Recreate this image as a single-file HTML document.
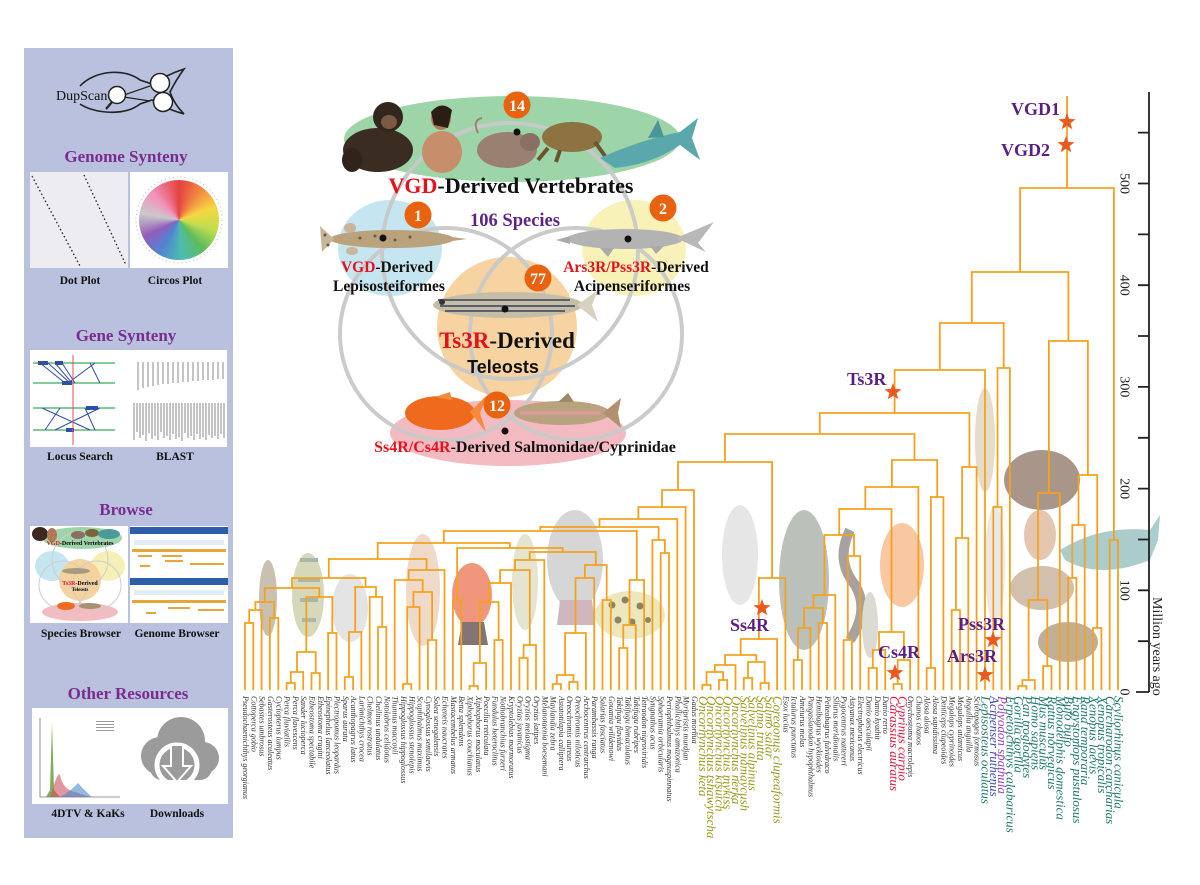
<!DOCTYPE html>
<html><head><meta charset="utf-8">
<style>
html,body{margin:0;padding:0;background:#fff;}
#wrap{position:relative;width:1200px;height:885px;overflow:hidden;background:#fff;}
svg{position:absolute;left:0;top:0;}
.circos{position:absolute;left:139px;top:180px;width:80px;height:80px;border-radius:50%;
background:conic-gradient(#e02020 0deg,#f07020 35deg,#f4d020 70deg,#b8d830 105deg,#40b040 140deg,#30b0a0 175deg,#3070c8 210deg,#8040b0 245deg,#c0c0c0 280deg,#f080b0 315deg,#e02020 360deg);opacity:.85}
</style></head><body><div id="wrap">
<svg width="1200" height="885" viewBox="0 0 1200 885" font-family="'Liberation Serif', serif">
<defs>
<path id="st" d="M0,-9 L2.17,-2.99 L8.56,-2.78 L3.52,1.14 L5.29,7.28 L0,3.7 L-5.29,7.28 L-3.52,1.14 L-8.56,-2.78 L-2.17,-2.99Z" fill="#ea5a1c"/>
</defs>

<!-- LEFT PANEL -->
<rect x="24" y="48" width="209" height="790" fill="#b9c1de"/>
<!-- logo -->
<path d="M80,86 C95,70 125,68 140,80 L152,84 C165,76 175,72 184,69 C176,80 172,88 170,92 C172,98 176,106 184,114 C174,111 165,108 152,100 L140,104 C125,116 95,114 80,104" fill="none" stroke="#222" stroke-width="1.6"/>
<path d="M124,95 L150,86 M124,97 L150,101" stroke="#222" stroke-width="1.2"/>
<circle cx="160" cy="83" r="9.5" fill="#fff" stroke="#222" stroke-width="1.5"/>
<circle cx="163" cy="102" r="9.5" fill="#fff" stroke="#222" stroke-width="1.5"/>
<circle cx="117" cy="95" r="8.5" fill="#fff" stroke="#222" stroke-width="1.5"/>
<path d="M112,102 L106,109" stroke="#222" stroke-width="2.2"/>
<text x="56" y="100" font-size="14" fill="#111">DupScan</text>

<text x="126" y="162" font-size="17" font-weight="bold" fill="#7a2c8e" text-anchor="middle">Genome Synteny</text>
<rect x="30" y="172" width="98" height="96" fill="#ececf1"/>
<path d="M32,176 L80,266 M84,175 L126,265" stroke="#222" stroke-width="1.3" stroke-dasharray="1.5 2.5"/>
<rect x="130" y="172" width="98" height="96" fill="#fff"/>
<circle cx="179" cy="220" r="43" fill="none" stroke="#bbb" stroke-width="1" stroke-dasharray="1 3"/>
<text x="80" y="284" font-size="11.5" font-weight="bold" fill="#111" text-anchor="middle">Dot Plot</text>
<text x="175" y="284" font-size="11.5" font-weight="bold" fill="#111" text-anchor="middle">Circos Plot</text>

<text x="126" y="341" font-size="17" font-weight="bold" fill="#7a2c8e" text-anchor="middle">Gene Synteny</text>
<rect x="30" y="350" width="197" height="97" fill="#fff"/>
<g stroke="#3cab5a" stroke-width="1.2"><path d="M33,363H115M33,383H115M33,408H115M33,430H115"/></g>
<g stroke="#2f4fa8" stroke-width="1"><path d="M40,363L65,383M48,363L70,383M55,363L72,383M62,363L75,383M90,363L100,383M95,363L68,383M42,408L90,430M60,408L45,430M85,408L95,430M100,408L55,430"/></g>
<g fill="#2f4fa8"><rect x="38" y="361" width="10" height="4"/><rect x="55" y="361" width="8" height="4"/><rect x="62" y="381" width="10" height="4"/><rect x="86" y="406" width="12" height="4"/><rect x="66" y="428" width="8" height="4"/></g>
<path d="M73,355V445" stroke="#e05050" stroke-width="1"/>
<g stroke="#888" stroke-width="1"><path d="M138,362V390M143,362V388M148,362V387M153,362V386M158,362V385M163,362V384M168,362V384M173,362V383M178,362V383M183,362V382M188,362V382M193,362V381M198,362V381M203,362V380M208,362V380M213,362V380M218,362V379M223,362V379"/>
<path d="M134,403V440M137,403V432M140,403V438M143,403V435M146,403V441M149,403V433M152,403V439M155,403V436M158,403V440M161,403V432M164,403V438M167,403V436M170,403V440M173,403V434M176,403V439M179,403V437M182,403V441M185,403V433M188,403V438M191,403V436M194,403V440M197,403V434M200,403V439M203,403V437M206,403V440M209,403V435M212,403V438M215,403V436M218,403V439M221,403V434M224,403V438"/></g>
<text x="80" y="460" font-size="11.5" font-weight="bold" fill="#111" text-anchor="middle">Locus Search</text>
<text x="175" y="460" font-size="11.5" font-weight="bold" fill="#111" text-anchor="middle">BLAST</text>

<text x="126" y="515" font-size="17" font-weight="bold" fill="#7a2c8e" text-anchor="middle">Browse</text>
<rect x="30" y="526" width="98" height="97" fill="#fff"/>
<ellipse cx="82" cy="538" rx="40" ry="11" fill="#9dd4a8"/>
<ellipse cx="52" cy="566" rx="17" ry="15" fill="#c5e6f0"/>
<ellipse cx="108" cy="566" rx="17" ry="15" fill="#f7f0b6"/>
<circle cx="80" cy="580" r="21" fill="#f5d39f"/>
<ellipse cx="80" cy="612" rx="38" ry="9" fill="#f2bcc3"/>
<g fill="none" stroke="#ccc" stroke-width="1"><circle cx="80" cy="560" r="28"/><circle cx="63" cy="585" r="24"/><circle cx="97" cy="585" r="24"/></g>
<ellipse cx="40" cy="534" rx="8" ry="7" fill="#3a2a20"/><ellipse cx="52" cy="535" rx="5" ry="7" fill="#b07a58"/><ellipse cx="78" cy="535" rx="7" ry="4" fill="#8a7060"/><ellipse cx="92" cy="533" rx="7" ry="4" fill="#7a6438"/><ellipse cx="109" cy="534" rx="11" ry="5" fill="#4a9a9a"/>
<ellipse cx="76" cy="571" rx="14" ry="3" fill="#a89a80"/><ellipse cx="66" cy="606" rx="9" ry="4" fill="#f06a20"/><ellipse cx="90" cy="606" rx="11" ry="3" fill="#a89070"/>
<text x="80" y="545" font-size="6" font-weight="bold" text-anchor="middle"><tspan fill="#e3121b">VGD</tspan>-Derived Vertebrates</text>
<text x="80" y="585" font-size="6" font-weight="bold" text-anchor="middle"><tspan fill="#e3121b">Ts3R</tspan>-Derived</text>
<text x="80" y="591" font-size="5" font-weight="bold" text-anchor="middle">Teleosts</text>
<rect x="130" y="526" width="98" height="97" fill="#fff"/>
<rect x="130" y="527" width="98" height="7" fill="#2d5fa8"/>
<rect x="130" y="578" width="98" height="7" fill="#2d5fa8"/>
<rect x="134" y="540" width="90" height="5" fill="#e4ecf6"/><rect x="134" y="590" width="90" height="5" fill="#e4ecf6"/>
<g fill="#e8a63a"><rect x="132" y="549" width="94" height="3"/><rect x="138" y="555" width="14" height="2"/><rect x="162" y="555" width="20" height="2"/><rect x="165" y="560" width="18" height="2"/><rect x="140" y="565" width="10" height="2"/><rect x="190" y="563" width="34" height="2"/><rect x="132" y="600" width="94" height="3"/><rect x="168" y="607" width="22" height="2"/><rect x="198" y="609" width="26" height="2"/><rect x="146" y="612" width="10" height="2"/></g>
<text x="81" y="637" font-size="11.5" font-weight="bold" fill="#111" text-anchor="middle">Species Browser</text>
<text x="177" y="637" font-size="11.5" font-weight="bold" fill="#111" text-anchor="middle">Genome Browser</text>

<text x="128" y="699" font-size="17" font-weight="bold" fill="#7a2c8e" text-anchor="middle">Other Resources</text>
<rect x="32" y="708" width="196" height="96" fill="#fff"/>
<path d="M40,718V797H120" stroke="#777" stroke-width="0.8" fill="none"/>
<path d="M46,797 L50,790 L52,722 L54,790 L60,797Z" fill="#6aa040" opacity=".85"/>
<path d="M50,797 Q58,770 60,775 Q63,790 75,792 L90,797Z" fill="#d05060" opacity=".6"/>
<path d="M60,797 Q72,790 78,783 Q84,790 92,797Z" fill="#4a8ac8" opacity=".6"/>
<g fill="#999"><rect x="96" y="721" width="18" height="1"/><rect x="96" y="724" width="18" height="1"/><rect x="96" y="727" width="18" height="1"/><rect x="96" y="730" width="18" height="1"/></g>
<g fill="#9b9b9b"><circle cx="160" cy="756" r="19"/><circle cx="181" cy="741" r="24"/><circle cx="203" cy="758" r="16"/><rect x="150" y="752" width="62" height="28" rx="12"/></g>
<circle cx="177" cy="765" r="20" fill="none" stroke="#fff" stroke-width="5"/>
<path d="M171,745H183V766H191L177,782L163,766H171Z" fill="#9b9b9b" stroke="#fff" stroke-width="2"/>
<text x="88" y="817" font-size="11.5" font-weight="bold" fill="#111" text-anchor="middle">4DTV &amp; KaKs</text>
<text x="177" y="817" font-size="11.5" font-weight="bold" fill="#111" text-anchor="middle">Downloads</text>

<!-- VENN -->
<ellipse cx="512" cy="139" rx="168" ry="43" fill="#9dd4a8"/>
<ellipse cx="390" cy="248" rx="52" ry="48" fill="#c5e6f0"/>
<ellipse cx="634" cy="248" rx="52" ry="48" fill="#f8f1b8"/>
<circle cx="507" cy="327" r="70" fill="#f6d3a1"/>
<ellipse cx="508" cy="433" rx="118" ry="33" fill="#f3bac1"/>
<g fill="none" stroke="#c9c9c9" stroke-width="4" opacity=".95">
<circle cx="510" cy="251" r="128"/><circle cx="446" cy="334" r="106"/><circle cx="576" cy="334" r="106"/></g>

<!-- animals -->
<g>
<ellipse cx="378" cy="150" rx="35" ry="22" fill="#3b2c22"/>
<circle cx="388" cy="117" r="15" fill="#33261d"/>
<ellipse cx="389" cy="122" rx="8" ry="7" fill="#7a5a45"/>
<ellipse cx="352" cy="160" rx="10" ry="12" fill="#2f231b"/>
<ellipse cx="442" cy="152" rx="20" ry="21" fill="#c78e6c"/>
<ellipse cx="441" cy="118" rx="10" ry="12" fill="#b07a58"/>
<path d="M431,112 Q441,100 452,110 L448,128 L434,125Z" fill="#2a1d16"/>
<path d="M478,133 Q472,120 482,118" stroke="#a08070" stroke-width="2" fill="none"/>
<ellipse cx="507" cy="150" rx="30" ry="18" fill="#9a8070"/>
<ellipse cx="530" cy="142" rx="10" ry="9" fill="#8a7064"/>
<ellipse cx="572" cy="137" rx="30" ry="15" fill="#8d7242"/>
<path d="M548,148 L538,160 M595,142 L605,156 M560,150 L556,162" stroke="#6a5530" stroke-width="4"/>
<path d="M600,158 Q640,140 680,132 L698,118 L692,138 L700,160 L680,145 Q650,165 615,168 Z" fill="#5aa8ab"/>
<path d="M648,138 L658,120 L664,137Z" fill="#4c9598"/>
</g>
<g>
<ellipse cx="392" cy="239" rx="62" ry="9" fill="#b9a27c"/>
<path d="M334,239 L320,226 L322,252Z" fill="#c8b59a"/>
<path d="M445,236 L467,239 L445,242Z" fill="#b9a27c"/>
<ellipse cx="350" cy="228" rx="6" ry="5" fill="#c8b59a"/>
<ellipse cx="352" cy="251" rx="6" ry="4" fill="#c8b59a"/>
<g fill="#6a5a40"><circle cx="360" cy="238" r="1.5"/><circle cx="375" cy="236" r="1.5"/><circle cx="395" cy="240" r="1.5"/><circle cx="410" cy="237" r="1.5"/><circle cx="325" cy="235" r="1.5"/><circle cx="328" cy="245" r="1.5"/></g>
<ellipse cx="625" cy="239" rx="58" ry="10" fill="#b3b3b3"/>
<path d="M676,238 L714,222 L698,243 L706,252Z" fill="#b8b8b8"/>
<path d="M570,236 L556,240 L570,244Z" fill="#aaa"/>
<path d="M600,248 L608,257 L614,248Z M650,246 L656,254 L664,246Z" fill="#aaa"/>
<ellipse cx="508" cy="305" rx="75" ry="13" fill="#c6bda6"/>
<path d="M438,300H570M440,306H575M445,311H565" stroke="#5a6070" stroke-width="2"/>
<path d="M577,305 L598,290 L592,305 L598,322Z" fill="#d8d0c0"/>
<circle cx="442" cy="302" r="3" fill="#333"/>
<ellipse cx="440" cy="413" rx="35" ry="17" fill="#f06a1e"/>
<path d="M470,412 L487,395 L480,413 L486,432Z" fill="#f58a3a"/>
<path d="M435,397 L450,392 L452,400Z" fill="#f58a3a"/>
<ellipse cx="562" cy="413" rx="48" ry="12" fill="#b9a27f"/>
<path d="M520,413H600" stroke="#e09aa0" stroke-width="3"/>
<path d="M603,413 L621,398 L618,413 L621,428Z" fill="#b09070"/>
<path d="M558,402 L568,393 L574,402Z" fill="#a08868"/>
</g>
<g fill="#111"><circle cx="517" cy="132" r="3.5"/><circle cx="383" cy="238" r="3.5"/><circle cx="628" cy="239" r="3.5"/><circle cx="505" cy="309" r="3.5"/><circle cx="505" cy="431" r="3.5"/></g>

<text x="511" y="193" font-size="22" font-weight="bold" fill="#111" text-anchor="middle"><tspan fill="#e3121b">VGD</tspan>-Derived Vertebrates</text>
<text x="515" y="226" font-size="18.5" font-weight="bold" fill="#5e2486" text-anchor="middle">106 Species</text>
<text x="387" y="272" font-size="15.5" font-weight="bold" fill="#111" text-anchor="middle"><tspan fill="#e3121b">VGD</tspan>-Derived</text>
<text x="389" y="291" font-size="15.5" font-weight="bold" fill="#111" text-anchor="middle">Lepisosteiformes</text>
<text x="636" y="272" font-size="15.5" font-weight="bold" fill="#111" text-anchor="middle"><tspan fill="#e3121b">Ars3R/Pss3R</tspan>-Derived</text>
<text x="632" y="291" font-size="15.5" font-weight="bold" fill="#111" text-anchor="middle">Acipenseriformes</text>
<text x="507" y="348" font-size="23" font-weight="bold" fill="#111" text-anchor="middle"><tspan fill="#e3121b">Ts3R</tspan>-Derived</text>
<text x="503" y="373" font-size="18" font-weight="bold" fill="#111" text-anchor="middle" font-family="'Liberation Sans', sans-serif">Teleosts</text>
<text x="525" y="452" font-size="16" font-weight="bold" fill="#111" text-anchor="middle"><tspan fill="#e3121b">Ss4R/Cs4R</tspan>-Derived Salmonidae/Cyprinidae</text>

<g font-weight="bold" fill="#fff" text-anchor="middle" font-size="16">
<circle cx="517" cy="105" r="13.5" fill="#e8620f"/><text x="517" y="111">14</text>
<circle cx="418" cy="215" r="13.5" fill="#e8620f"/><text x="418" y="221">1</text>
<circle cx="663" cy="208" r="13.5" fill="#e8620f"/><text x="663" y="214">2</text>
<circle cx="538" cy="278" r="13.5" fill="#e8620f"/><text x="538" y="284">77</text>
<circle cx="497" cy="405" r="13.5" fill="#e8620f"/><text x="497" y="411">12</text>
</g>

<!-- TREE IMAGES (faded) -->
<g opacity=".75">
<ellipse cx="268" cy="598" rx="9" ry="38" fill="#b9ab95"/>
<ellipse cx="308" cy="595" rx="16" ry="42" fill="#c9cca2"/><path d="M300,560H318M298,580H320M300,600H318M302,620H316" stroke="#8aa090" stroke-width="4"/>
<ellipse cx="350" cy="608" rx="18" ry="34" fill="#dcdcdc"/>
<ellipse cx="423" cy="590" rx="17" ry="56" fill="#eacdb6"/>
<ellipse cx="472" cy="595" rx="20" ry="32" fill="#ea7452"/><path d="M462,622 L484,622 L488,645 L458,645Z" fill="#5a4848"/>
<ellipse cx="525" cy="582" rx="13" ry="48" fill="#dcdcc2"/>
<ellipse cx="575" cy="560" rx="28" ry="50" fill="#c9c9c9"/><path d="M560,600 L592,600 L595,625 L557,625Z" fill="#c0a0a8"/>
<ellipse cx="630" cy="615" rx="35" ry="24" fill="#e8dfa8"/>
<g fill="#6a5a30"><circle cx="612" cy="605" r="3.5"/><circle cx="625" cy="600" r="3.5"/><circle cx="640" cy="606" r="3.5"/><circle cx="618" cy="620" r="3.5"/><circle cx="632" cy="622" r="3.5"/><circle cx="648" cy="620" r="3"/></g>
<ellipse cx="740" cy="555" rx="18" ry="50" fill="#dedede"/>
<ellipse cx="804" cy="580" rx="25" ry="70" fill="#a5aca5"/>
<path d="M850,530 Q835,560 855,585 Q870,610 850,640" stroke="#8a8282" stroke-width="10" fill="none"/>
<ellipse cx="870" cy="625" rx="8" ry="33" fill="#d0d0c6"/>
<ellipse cx="902" cy="565" rx="22" ry="42" fill="#f7b584"/>
<ellipse cx="985" cy="440" rx="10" ry="52" fill="#ddd2bb"/>
<ellipse cx="995" cy="565" rx="10" ry="60" fill="#e2e2e2"/>
<ellipse cx="1042" cy="480" rx="38" ry="30" fill="#8c7464"/>
<ellipse cx="1040" cy="535" rx="16" ry="25" fill="#dbb496"/>
<path d="M1060,550 Q1100,525 1150,530 L1160,515 L1158,540 L1150,560 Q1100,580 1065,560Z" fill="#8ebcbc"/>
<ellipse cx="1042" cy="588" rx="32" ry="22" fill="#c3ab94"/>
<ellipse cx="1068" cy="642" rx="30" ry="20" fill="#ab9473"/>
</g>

<!-- TREE -->
<path fill="none" stroke="#f4a21e" stroke-width="1.8" d="M245 690V623H253.3V690M249.2 623V610H261.6V690M269.9 690V618H278.3V690M255.4 610V602H274.1V618M286.6 690V683H294.9V690M290.8 683V672H303.2V690M311.5 690V673H319.8V690M297 672V652H315.7V673M328.1 690V633H336.5V690M306.3 652V597H332.3V633M264.8 602V588H319.3V597M344.8 690V677H353.1V690M349 677V632H361.4V690M378 690V627H386.3V690M369.7 690V597H382.2V627M355.2 632V587H376V597M292 588V578H365.6V587M403 690V684H411.3V690M407.2 684V607H419.6V690M427.9 690V640H436.2V690M413.4 607V592H432.1V640M394.7 690V580H422.7V592M408.7 580V570H444.5V690M328.8 578V559H426.6V570M452.9 690V600H461.2V690M469.5 690V686H477.8V690M473.7 686V663H486.1V690M494.4 690V640H502.7V690M479.9 663V602H498.6V640M489.2 602V583H511V690M519.4 690V658H527.7V690M523.6 658V645H536V690M500.1 583V570H529.8V645M515 570V560H544.3V690M552.6 690V684H560.9V690M569.2 690V682H577.6V690M556.8 684V675H573.4V682M565.1 675V633H585.9V690M575.5 633V578H594.2V690M602.5 690V600H610.8V690M584.9 578V565H606.7V600M529.7 560V552H595.8V565M457.1 600V548H562.7V552M377.7 559V543H509.9V548M619.1 690V648H627.4V690M623.3 648V625H635.8V690M629.5 625V580H644.1V690M443.8 543V531H636.8V580M660.7 690V553H669V690M652.4 690V540H664.9V553M540.3 531V527H658.6V540M599.5 527V519H677.3V690M638.4 519V507H685.6V690M662 507V490H694V690M702.3 690V685H710.6V690M718.9 690V680H727.2V690M706.5 685V672H723.1V680M714.8 672V665H735.5V690M743.8 690V678H752.2V690M760.5 690V683H768.8V690M748 678V662H764.7V683M725.1 665V655H756.3V662M740.7 655V639H777.1V690M758.9 639V578H785.4V690M678 490V462H772.1V578M793.7 690V660H802V690M797.9 660V628H810.4V690M818.7 690V623H827V690M804.1 628V608H822.9V623M813.5 608V595H835.3V690M843.6 690V640H851.9V690M847.8 640V556H860.2V690M824.4 595V535H854V556M868.6 690V668H876.9V690M872.8 668V650H885.2V690M893.5 690V684H901.8V690M897.7 684V660H910.1V690M879 650V632H903.9V660M839.2 535V509H891.5V632M865.3 509V487H918.4V690M926.7 690V668H935.1V690M930.9 668V497H943.4V690M891.9 487V460H937.2V497M725 462V434H914.5V460M951.7 690V610H960V690M955.9 610V538H968.3V690M962.1 538V467H976.6V690M819.8 434V413H969.4V467M894.6 413V370H985V690M993.3 690V507H1001.6V690M997.5 507V368H1009.9V690M939.8 370V323H1003.7V368M1018.2 690V686H1026.5V690M1022.4 686V680H1034.8V690M1043.1 690V666H1051.5V690M1028.6 680V600H1047.3V666M1038 600V493H1059.8V690M1068.1 690V578H1076.4V690M1072.3 578V525H1084.7V690M1093 690V628H1101.4V690M1078.5 525V475H1097.2V628M1048.9 493V341H1087.9V475M971.8 323V272H1068.4V341M1109.7 690V540H1118V690M1020.1 272V188H1113.9V540M1067 188V96"/>

<!-- stars & labels -->
<use href="#st" x="1067" y="122"/><use href="#st" x="1066" y="145"/>
<use href="#st" x="893" y="392"/><use href="#st" x="762" y="608"/>
<use href="#st" x="895" y="673"/><use href="#st" x="993" y="640"/><use href="#st" x="985" y="675"/>
<g font-weight="bold" fill="#5a1f84" font-size="18">
<text x="1060" y="115" text-anchor="end">VGD1</text>
<text x="1050" y="156" text-anchor="end">VGD2</text>
<text x="847" y="385">Ts3R</text>
<text x="730" y="631">Ss4R</text>
<text x="878" y="658">Cs4R</text>
<text x="958" y="630">Pss3R</text>
<text x="947" y="662">Ars3R</text>
</g>

<!-- AXIS -->
<path d="M1149 92V692M1138 132.6H1149M1138 183.5H1149M1138 234.4H1149M1138 285.2H1149M1138 336H1149M1138 386.9H1149M1138 437.8H1149M1138 488.6H1149M1138 539.5H1149M1138 590.3H1149M1138 641.2H1149M1136 692H1149" stroke="#222" stroke-width="1.8" fill="none"/>
<g font-size="14" fill="#222" text-anchor="middle">
<text transform="translate(1120.5,183.5) rotate(90)">500</text>
<text transform="translate(1120.5,285.2) rotate(90)">400</text>
<text transform="translate(1120.5,386.9) rotate(90)">300</text>
<text transform="translate(1120.5,488.6) rotate(90)">200</text>
<text transform="translate(1120.5,590.3) rotate(90)">100</text>
<text transform="translate(1120.5,692) rotate(90)">0</text>
</g>
<text transform="translate(1153,597) rotate(90)" font-size="14" fill="#222">Million years ago</text>

<!-- SPECIES LABELS -->
<g font-size="8" font-style="italic" fill="#333">
<text transform="translate(243,696) rotate(90)">Pseudochaenichthys georgianus</text>
<text transform="translate(251.3,696) rotate(90)">Cottoperca gobio</text>
<text transform="translate(259.6,696) rotate(90)">Sebastes umbrosus</text>
<text transform="translate(267.9,696) rotate(90)">Gasterosteus aculeatus</text>
<text transform="translate(276.3,696) rotate(90)">Cyclopterus lumpus</text>
<text transform="translate(284.6,696) rotate(90)">Perca fluviatilis</text>
<text transform="translate(292.9,696) rotate(90)">Perca flavescens</text>
<text transform="translate(301.2,696) rotate(90)">Sander lucioperca</text>
<text transform="translate(309.5,696) rotate(90)">Etheostoma spectabile</text>
<text transform="translate(317.8,696) rotate(90)">Etheostoma cragini</text>
<text transform="translate(326.1,696) rotate(90)">Epinephelus lanceolatus</text>
<text transform="translate(334.5,696) rotate(90)">Plectropomus leopardus</text>
<text transform="translate(342.8,696) rotate(90)">Sparus aurata</text>
<text transform="translate(351.1,696) rotate(90)">Acanthopagrus latus</text>
<text transform="translate(359.4,696) rotate(90)">Larimichthys crocea</text>
<text transform="translate(367.7,696) rotate(90)">Chelmon rostratus</text>
<text transform="translate(376,696) rotate(90)">Cheilinus undulatus</text>
<text transform="translate(384.3,696) rotate(90)">Notolabrus celidotus</text>
<text transform="translate(392.7,696) rotate(90)">Thunnus maccoyii</text>
<text transform="translate(401,696) rotate(90)">Hippoglossus hippoglossus</text>
<text transform="translate(409.3,696) rotate(90)">Hippoglossus stenolepis</text>
<text transform="translate(417.6,696) rotate(90)">Scophthalmus maximus</text>
<text transform="translate(425.9,696) rotate(90)">Cynoglossus semilaevis</text>
<text transform="translate(434.2,696) rotate(90)">Solea senegalensis</text>
<text transform="translate(442.5,696) rotate(90)">Echeneis naucrates</text>
<text transform="translate(450.9,696) rotate(90)">Mastacembelus armatus</text>
<text transform="translate(459.2,696) rotate(90)">Betta splendens</text>
<text transform="translate(467.5,696) rotate(90)">Xiphophorus couchianus</text>
<text transform="translate(475.8,696) rotate(90)">Xiphophorus maculatus</text>
<text transform="translate(484.1,696) rotate(90)">Poecilia reticulata</text>
<text transform="translate(492.4,696) rotate(90)">Fundulus heteroclitus</text>
<text transform="translate(500.7,696) rotate(90)">Nothobranchius furzeri</text>
<text transform="translate(509,696) rotate(90)">Kryptolebias marmoratus</text>
<text transform="translate(517.4,696) rotate(90)">Oryzias javanicus</text>
<text transform="translate(525.7,696) rotate(90)">Oryzias melastigma</text>
<text transform="translate(534,696) rotate(90)">Oryzias latipes</text>
<text transform="translate(542.3,696) rotate(90)">Melanotaenia boesemani</text>
<text transform="translate(550.6,696) rotate(90)">Maylandia zebra</text>
<text transform="translate(558.9,696) rotate(90)">Astatotilapia calliptera</text>
<text transform="translate(567.2,696) rotate(90)">Oreochromis aureus</text>
<text transform="translate(575.6,696) rotate(90)">Oreochromis niloticus</text>
<text transform="translate(583.9,696) rotate(90)">Archocentrus centrarchus</text>
<text transform="translate(592.2,696) rotate(90)">Parambassis ranga</text>
<text transform="translate(600.5,696) rotate(90)">Salarias fasciatus</text>
<text transform="translate(608.8,696) rotate(90)">Gouania willdenowi</text>
<text transform="translate(617.1,696) rotate(90)">Takifugu flavidus</text>
<text transform="translate(625.4,696) rotate(90)">Takifugu bimaculatus</text>
<text transform="translate(633.8,696) rotate(90)">Takifugu rubripes</text>
<text transform="translate(642.1,696) rotate(90)">Tetraodon nigroviridis</text>
<text transform="translate(650.4,696) rotate(90)">Syngnathus acus</text>
<text transform="translate(658.7,696) rotate(90)">Sphaeramia orbicularis</text>
<text transform="translate(667,696) rotate(90)">Periophthalmus magnuspinnatus</text>
<text transform="translate(675.3,696) rotate(90)">Phallichthys amazonica</text>
<text transform="translate(683.6,696) rotate(90)">Myripristis murdjan</text>
<text transform="translate(692,696) rotate(90)">Gadus morhua</text>
<text transform="translate(783.4,696) rotate(90)">Esox lucius</text>
<text transform="translate(791.7,696) rotate(90)">Ictalurus punctatus</text>
<text transform="translate(800,696) rotate(90)">Ameiurus melas</text>
<text transform="translate(808.4,696) rotate(90)">Pangasianodon hypophthalmus</text>
<text transform="translate(816.7,696) rotate(90)">Hemibagrus wyckioides</text>
<text transform="translate(825,696) rotate(90)">Pelteobagrus fulvidraco</text>
<text transform="translate(833.3,696) rotate(90)">Silurus meridionalis</text>
<text transform="translate(841.6,696) rotate(90)">Pygocentrus nattereri</text>
<text transform="translate(849.9,696) rotate(90)">Astyanax mexicanus</text>
<text transform="translate(858.2,696) rotate(90)">Electrophorus electricus</text>
<text transform="translate(866.6,696) rotate(90)">Danio aesculapii</text>
<text transform="translate(874.9,696) rotate(90)">Danio kyathit</text>
<text transform="translate(883.2,696) rotate(90)">Danio rerio</text>
<text transform="translate(908.1,696) rotate(90)">Onychostoma macrolepis</text>
<text transform="translate(916.4,696) rotate(90)">Chanos chanos</text>
<text transform="translate(924.7,696) rotate(90)">Alosa alosa</text>
<text transform="translate(933.1,696) rotate(90)">Alosa sapidissima</text>
<text transform="translate(941.4,696) rotate(90)">Denticeps clupeoides</text>
<text transform="translate(949.7,696) rotate(90)">Megalops cyprinoides</text>
<text transform="translate(958,696) rotate(90)">Megalops atlanticus</text>
<text transform="translate(966.3,696) rotate(90)">Anguilla anguilla</text>
<text transform="translate(974.6,696) rotate(90)">Scleropages formosus</text>
</g>
<g font-size="13" font-style="italic" fill="#9c9a1e">
<text transform="translate(698.8,696) rotate(90)">Oncorhynchus keta</text>
<text transform="translate(707.1,696) rotate(90)">Oncorhynchus tshawytscha</text>
<text transform="translate(715.4,696) rotate(90)">Oncorhynchus kisutch</text>
<text transform="translate(723.7,696) rotate(90)">Oncorhynchus mykiss</text>
<text transform="translate(732,696) rotate(90)">Oncorhynchus nerka</text>
<text transform="translate(740.3,696) rotate(90)">Salvelinus namaycush</text>
<text transform="translate(748.7,696) rotate(90)">Salvelinus alpinus</text>
<text transform="translate(757,696) rotate(90)">Salmo trutta</text>
<text transform="translate(765.3,696) rotate(90)">Salmo salar</text>
<text transform="translate(773.6,696) rotate(90)">Coregonus clupeaformis</text>
</g>
<g font-size="13" font-style="italic" fill="#e5143c">
<text transform="translate(890,696) rotate(90)">Carassius auratus</text>
<text transform="translate(898.3,696) rotate(90)">Cyprinus carpio</text>
</g>
<g font-size="13" font-style="italic" fill="#1d7a6c">
<text transform="translate(981.5,696) rotate(90)">Lepisosteus oculatus</text>
<text transform="translate(989.8,696) rotate(90)" fill="#3c4fb4">Acipenser ruthenus</text>
<text transform="translate(998.1,696) rotate(90)" fill="#9b3fb5">Polyodon spathula</text>
<text transform="translate(1006.4,696) rotate(90)">Erpetoichthys calabaricus</text>
<text transform="translate(1014.7,696) rotate(90)">Gorilla gorilla</text>
<text transform="translate(1023,696) rotate(90)">Pan troglodytes</text>
<text transform="translate(1031.3,696) rotate(90)">Homo sapiens</text>
<text transform="translate(1039.6,696) rotate(90)">Mus musculus</text>
<text transform="translate(1048,696) rotate(90)">Rattus norvegicus</text>
<text transform="translate(1056.3,696) rotate(90)">Monodelphis domestica</text>
<text transform="translate(1064.6,696) rotate(90)">Bufo bufo</text>
<text transform="translate(1072.9,696) rotate(90)">Engystomops pustulosus</text>
<text transform="translate(1081.2,696) rotate(90)">Rana temporaria</text>
<text transform="translate(1089.5,696) rotate(90)">Xenopus laevis</text>
<text transform="translate(1097.9,696) rotate(90)">Xenopus tropicalis</text>
<text transform="translate(1106.2,696) rotate(90)">Carcharodon carcharias</text>
<text transform="translate(1114.5,696) rotate(90)">Scyliorhinus canicula</text>
</g>
</svg>
<div class="circos"></div>
</div></body></html>
